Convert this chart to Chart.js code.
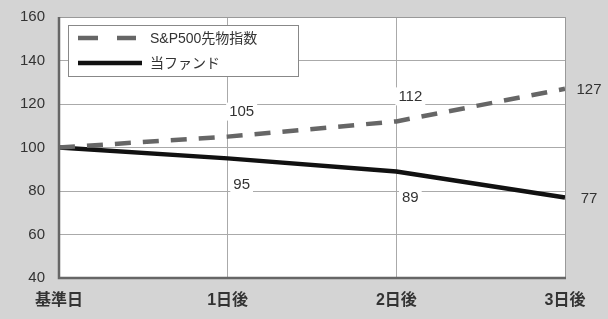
<!DOCTYPE html>
<html lang="ja">
<head>
<meta charset="UTF-8">
<title>S&amp;P500先物指数 vs 当ファンド</title>
<script src="https://cdn.jsdelivr.net/npm/chart.js"></script>
<style>
    html, body { margin: 0; padding: 0; background: #d4d4d4; }
    #chart { display: block; }
</style>
</head>
<body>
<canvas id="chart" width="608" height="319"></canvas>
<script>
    const days = ['基準日', '1日後', '2日後', '3日後'];
    const spFutures = [100, 105, 112, 127];
    const fund = [100, 95, 89, 77];
    const yTicks = [40, 60, 80, 100, 120, 140, 160];

    const FONT = "'Liberation Sans', 'Noto Sans CJK JP', sans-serif";

    // white plot area + frame
    const plotBg = {
        id: 'plotBg',
        beforeDraw(chart) {
            const { ctx, chartArea: a } = chart;
            ctx.save();
            ctx.fillStyle = '#fff';
            ctx.fillRect(a.left, a.top, a.right - a.left, a.bottom - a.top);
            ctx.restore();
        },
        afterDatasetsDraw(chart) {
            const { ctx, chartArea: a } = chart;
            ctx.save();
            ctx.strokeStyle = '#999';
            ctx.lineWidth = 1;
            ctx.beginPath();
            ctx.moveTo(a.left, a.top + 0.5); ctx.lineTo(a.right + 0.5, a.top + 0.5); ctx.lineTo(a.right + 0.5, a.bottom);
            ctx.stroke();
            ctx.strokeStyle = '#666';
            ctx.lineWidth = 2.5;
            ctx.beginPath();
            ctx.moveTo(a.left, a.top); ctx.lineTo(a.left, a.bottom); ctx.lineTo(a.right + 1, a.bottom);
            ctx.stroke();
            ctx.restore();
        }
    };

    // value labels next to the points
    const valueLabels = {
        id: 'valueLabels',
        afterDatasetsDraw(chart) {
            const { ctx } = chart;
            ctx.save();
            ctx.font = '15px ' + FONT;
            ctx.textAlign = 'center';
            ctx.textBaseline = 'middle';
            chart.data.datasets.forEach((ds, di) => {
                const meta = chart.getDatasetMeta(di);
                meta.data.forEach((pt, i) => {
                    if (i === 0) return;
                    const last = i === meta.data.length - 1;
                    let x, y;
                    if (last) { x = pt.x + 24; y = pt.y + 1; }
                    else { x = pt.x + 14; y = pt.y + (ds.labelSide === 'above' ? -25 : 26); }
                    const txt = String(ds.data[i]);
                    const w = ctx.measureText(txt).width;
                    if (!last) {
                        ctx.fillStyle = '#fff';
                        ctx.fillRect(x - w / 2 - 3, y - 9, w + 6, 18);
                    }
                    ctx.fillStyle = '#333';
                    ctx.fillText(txt, x, y);
                });
            });
            ctx.restore();
        }
    };

    // boxed legend inside the plot
    const boxLegend = {
        id: 'boxLegend',
        afterDraw(chart) {
            const { ctx, chartArea: a } = chart;
            const x0 = a.left + 9, y0 = a.top + 8, w = 230, h = 51;
            ctx.save();
            ctx.fillStyle = '#fff';
            ctx.fillRect(x0, y0, w, h);
            ctx.strokeStyle = '#888';
            ctx.lineWidth = 1;
            ctx.strokeRect(x0 + 0.5, y0 + 0.5, w, h);
            ctx.font = '14px ' + FONT;
            ctx.textBaseline = 'middle';
            chart.data.datasets.forEach((ds, i) => {
                const y = y0 + 13 + i * 25;
                ctx.strokeStyle = ds.borderColor;
                ctx.lineWidth = ds.borderWidth;
                ctx.setLineDash(ds.borderDash ? [20, 19] : []);
                ctx.beginPath();
                ctx.moveTo(x0 + 10, y);
                ctx.lineTo(x0 + (ds.borderDash ? 68 : 74), y);
                ctx.stroke();
                ctx.setLineDash([]);
                ctx.fillStyle = '#333';
                ctx.fillText(ds.label, x0 + 82, y + 1);
            });
            ctx.restore();
        }
    };

    new Chart(document.getElementById('chart').getContext('2d'), {
        type: 'line',
        data: {
            labels: days,
            datasets: [
                { label: 'S&P500先物指数', data: spFutures, borderColor: '#666', borderWidth: 4.5, borderDash: [16, 12], pointRadius: 0, tension: 0, labelSide: 'above' },
                { label: '当ファンド', data: fund, borderColor: '#111', borderWidth: 4.5, pointRadius: 0, tension: 0, labelSide: 'below' }
            ]
        },
        options: {
            responsive: false,
            animation: false,
            devicePixelRatio: 1,
            layout: { padding: { top: 17, right: 43, left: 0, bottom: 0 } },
            plugins: { legend: { display: false }, tooltip: { enabled: false } },
            scales: {
                x: {
                    offset: false,
                    grid: { color: '#aaa', lineWidth: 1, drawTicks: false },
                    border: { display: false },
                    afterFit: s => { s.height = 41; s.paddingLeft = 0; s.paddingRight = 0; },
                    ticks: { color: '#333', padding: 13, maxRotation: 0, autoSkip: false, font: { family: FONT, size: 16, weight: 'bold' } }
                },
                y: {
                    min: 40, max: 160,
                    afterBuildTicks: s => { s.ticks = yTicks.map(v => ({ value: v })); },
                    grid: { color: '#aaa', lineWidth: 1, drawTicks: false },
                    border: { display: false },
                    afterFit: s => { s.width = 59; s.paddingTop = 0; s.paddingBottom = 0; },
                    ticks: { color: '#333', padding: 14, autoSkip: false, font: { family: FONT, size: 15 } }
                }
            }
        },
        plugins: [plotBg, valueLabels, boxLegend]
    });
</script>
</body>
</html>
